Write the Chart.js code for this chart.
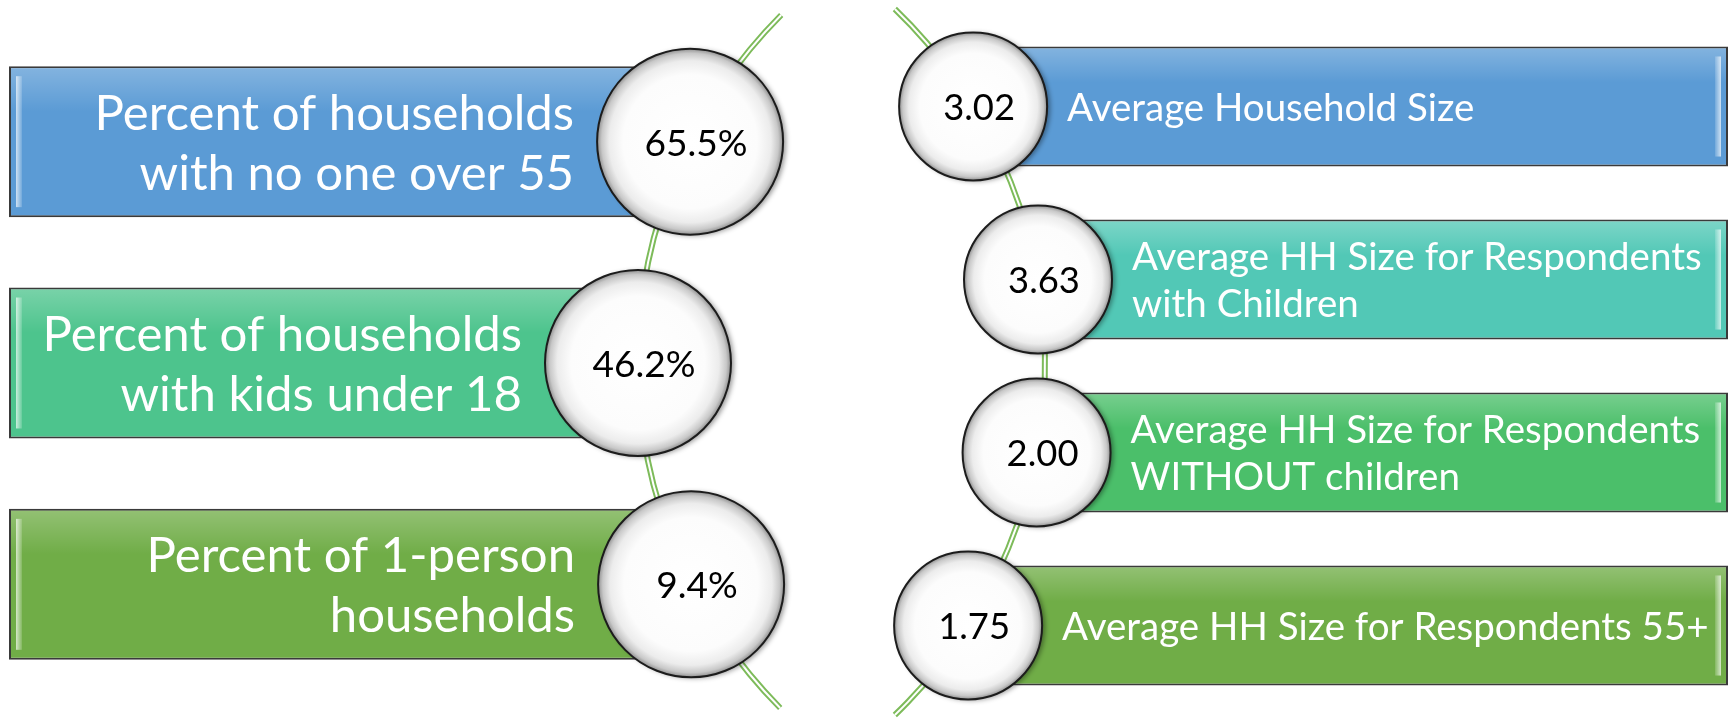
<!DOCTYPE html>
<html>
<head>
<meta charset="utf-8">
<script src="https://cdn.jsdelivr.net/npm/chart.js@4.4.1/dist/chart.umd.min.js"></script>
<style>
  html, body { margin: 0; padding: 0; background: #fff; }
  #wrap { position: relative; width: 1730px; height: 719px; }
  #wrap canvas { position: absolute; left: 0; top: 0; }
</style>
</head>
<body>
<div id="wrap">
  <canvas id="leftChart" width="1730" height="719"></canvas>
  <canvas id="rightChart" width="1730" height="719"></canvas>
</div>
<script>
// Data
const leftLabels = [
  'Percent of households\nwith no one over 55',
  'Percent of households\nwith kids under 18',
  'Percent of 1-person\nhouseholds'
];
const leftPercents = [65.5, 46.2, 9.4];

const rightLabels = [
  'Average Household Size',
  'Average HH Size for Respondents\nwith Children',
  'Average HH Size for Respondents\nWITHOUT children',
  'Average HH Size for Respondents 55+'
];
const rightSizes = [3.02, 3.63, 2.00, 1.75];

// Colours
const leftColors = ['#5B9BD5', '#4DC48D', '#70AD47'];
const rightColors = ['#5B9BD5', '#52C8B6', '#4BBF6A', '#70AD47'];

// Layout (canvas pixels; the x scale runs 0..1730 so one unit = one pixel)
const W = 1730, H = 719;
const leftPad = { top: 31, bottom: 24 };
const rightPad = { top: 20, bottom: 7 };
const leftArc = { cx: 1130, cy: 362, r: 492, y0: 15, y1: 708, side: -1 };
const rightArc = { cx: 555, cy: 362, r: 490, y0: 9, y1: 715, side: 1 };

function rowCenter(i, n, pad) {
  const h = (H - pad.top - pad.bottom) / n;
  return pad.top + (i + 0.5) * h;
}

function arcX(arc, y) {
  const dy = y - arc.cy;
  return arc.cx + arc.side * Math.sqrt(arc.r * arc.r - dy * dy);
}

// font size that makes `text` exactly `width` pixels wide
function fitSize(ctx, text, width, family) {
  ctx.font = '100px ' + family;
  return 100 * width / ctx.measureText(text).width;
}

// Draws the string, the beads, the bevels and the texts around the bars
const beadPlugin = {
  id: 'beads',
  beforeDatasetsDraw(chart, args, opts) {
    const ctx = chart.ctx;
    const xs = chart.scales.x;
    const arc = opts.arc;
    const cx = xs.getPixelForValue(arc.cx);
    let a0, a1;
    if (arc.side < 0) {
      a0 = Math.PI - Math.asin((arc.y1 - arc.cy) / arc.r);
      a1 = Math.PI - Math.asin((arc.y0 - arc.cy) / arc.r);
    } else {
      a0 = Math.asin((arc.y0 - arc.cy) / arc.r);
      a1 = Math.asin((arc.y1 - arc.cy) / arc.r);
    }
    ctx.save();
    ctx.lineCap = 'butt';
    ctx.beginPath();
    ctx.arc(cx, arc.cy, arc.r, a0, a1, false);
    ctx.strokeStyle = '#7DBB5A';
    ctx.lineWidth = 6;
    ctx.stroke();
    ctx.beginPath();
    ctx.arc(cx, arc.cy, arc.r, a0, a1, false);
    ctx.strokeStyle = '#ffffff';
    ctx.lineWidth = 2;
    ctx.stroke();
    ctx.restore();
  },
  afterDatasetsDraw(chart, args, opts) {
    const ctx = chart.ctx;
    const meta = chart.getDatasetMeta(0);
    const valueSize = fitSize(ctx, opts.valueRef, opts.valueRefWidth, 'Lato');
    const labelSize = fitSize(ctx, opts.labelRef, opts.labelRefWidth, 'Lato');

    meta.data.forEach((el, i) => {
      const p = el.getProps(['x', 'y', 'base', 'height'], true);
      const top = p.y - p.height / 2;
      const left = Math.min(p.x, p.base), right = Math.max(p.x, p.base);

      // soft highlight along the top
      ctx.save();
      let g = ctx.createLinearGradient(0, top, 0, top + p.height * 0.3);
      g.addColorStop(0, 'rgba(255,255,255,0.25)');
      g.addColorStop(1, 'rgba(255,255,255,0)');
      ctx.fillStyle = g;
      ctx.fillRect(left + 2, top + 2, right - left - 4, p.height * 0.3);

      // bevel strip at the outer end
      const bx = opts.side < 0 ? left + 7 : right - 13;
      g = ctx.createLinearGradient(bx, 0, bx + 6, 0);
      if (opts.side < 0) {
        g.addColorStop(0, 'rgba(255,255,255,0.7)');
        g.addColorStop(1, 'rgba(255,255,255,0.15)');
      } else {
        g.addColorStop(0, 'rgba(255,255,255,0.15)');
        g.addColorStop(1, 'rgba(255,255,255,0.7)');
      }
      ctx.fillStyle = g;
      ctx.fillRect(bx, top + 10, 6, p.height - 20);
      ctx.restore();

      // bead
      const cx = arcX(opts.arc, p.y);
      const cy = p.y;
      const rad = opts.radius;
      ctx.save();
      ctx.shadowColor = 'rgba(0,0,0,0.4)';
      ctx.shadowBlur = 5;
      ctx.shadowOffsetX = 3;
      ctx.shadowOffsetY = 1;
      g = ctx.createRadialGradient(cx, cy, 0, cx, cy, rad);
      g.addColorStop(0, '#ffffff');
      g.addColorStop(0.72, '#fcfcfc');
      g.addColorStop(0.87, '#ececec');
      g.addColorStop(0.95, '#c8c8c8');
      g.addColorStop(1, '#8f8f8f');
      ctx.beginPath();
      ctx.arc(cx, cy, rad, 0, Math.PI * 2);
      ctx.fillStyle = g;
      ctx.fill();
      ctx.restore();

      ctx.save();
      ctx.beginPath();
      ctx.arc(cx, cy, rad, 0, Math.PI * 2);
      ctx.strokeStyle = '#1c1c1c';
      ctx.lineWidth = 2;
      ctx.stroke();

      // value inside the bead
      ctx.fillStyle = '#000';
      ctx.font = valueSize.toFixed(1) + 'px Lato';
      ctx.textAlign = 'center';
      ctx.textBaseline = 'middle';
      ctx.fillText(opts.values[i], cx + 6, cy + 2);

      // label inside the bar
      const lines = opts.labels[i].split('\n');
      ctx.fillStyle = '#ffffff';
      ctx.font = labelSize.toFixed(1) + 'px Lato';
      ctx.textAlign = opts.side < 0 ? 'right' : 'left';
      const tx = cx + opts.textGap * (opts.side < 0 ? -1 : 1);
      lines.forEach((ln, j) => {
        const ty = cy + (j - (lines.length - 1) / 2) * opts.lineHeight + 2;
        ctx.fillText(ln, tx, ty);
      });
      ctx.restore();
    });
  }
};

function makeChart(id, labels, colors, bars, pad, barPct, pluginOpts) {
  return new Chart(document.getElementById(id), {
    type: 'bar',
    data: {
      labels: labels,
      datasets: [{
        data: bars,
        backgroundColor: colors,
        borderColor: '#3a3a3a',
        borderWidth: 2,
        borderSkipped: false,
        barPercentage: barPct,
        categoryPercentage: 1
      }]
    },
    options: {
      indexAxis: 'y',
      responsive: false,
      animation: false,
      events: [],
      layout: { padding: { top: pad.top, bottom: pad.bottom, left: 0, right: 0 } },
      scales: {
        x: { type: 'linear', min: 0, max: W, display: false },
        y: { type: 'category', display: false }
      },
      plugins: {
        legend: { display: false },
        tooltip: { enabled: false },
        beads: pluginOpts
      }
    },
    plugins: [beadPlugin]
  });
}

// Left: bars run from the left edge into the bead on the string
const leftBars = leftLabels.map((_, i) => [9, arcX(leftArc, rowCenter(i, leftLabels.length, leftPad))]);
makeChart('leftChart', leftLabels, leftColors, leftBars, leftPad, 0.682, {
  arc: leftArc, side: -1, radius: 93,
  values: leftPercents.map(v => v.toFixed(1) + '%'),
  labels: leftLabels,
  valueRef: '65.5%', valueRefWidth: 103,
  labelRef: 'Percent of households', labelRefWidth: 480,
  lineHeight: 60,
  textGap: 116
});

// Right: bars run from the bead to the right edge
const rightBars = rightLabels.map((_, i) => [arcX(rightArc, rowCenter(i, rightLabels.length, rightPad)), 1728]);
makeChart('rightChart', rightLabels, rightColors, rightBars, rightPad, 0.694, {
  arc: rightArc, side: 1, radius: 74,
  values: rightSizes.map(v => v.toFixed(2)),
  labels: rightLabels,
  valueRef: '3.63', valueRefWidth: 72,
  labelRef: 'Average HH Size for Respondents', labelRefWidth: 569,
  lineHeight: 47,
  textGap: 94
});
</script>
</body>
</html>
